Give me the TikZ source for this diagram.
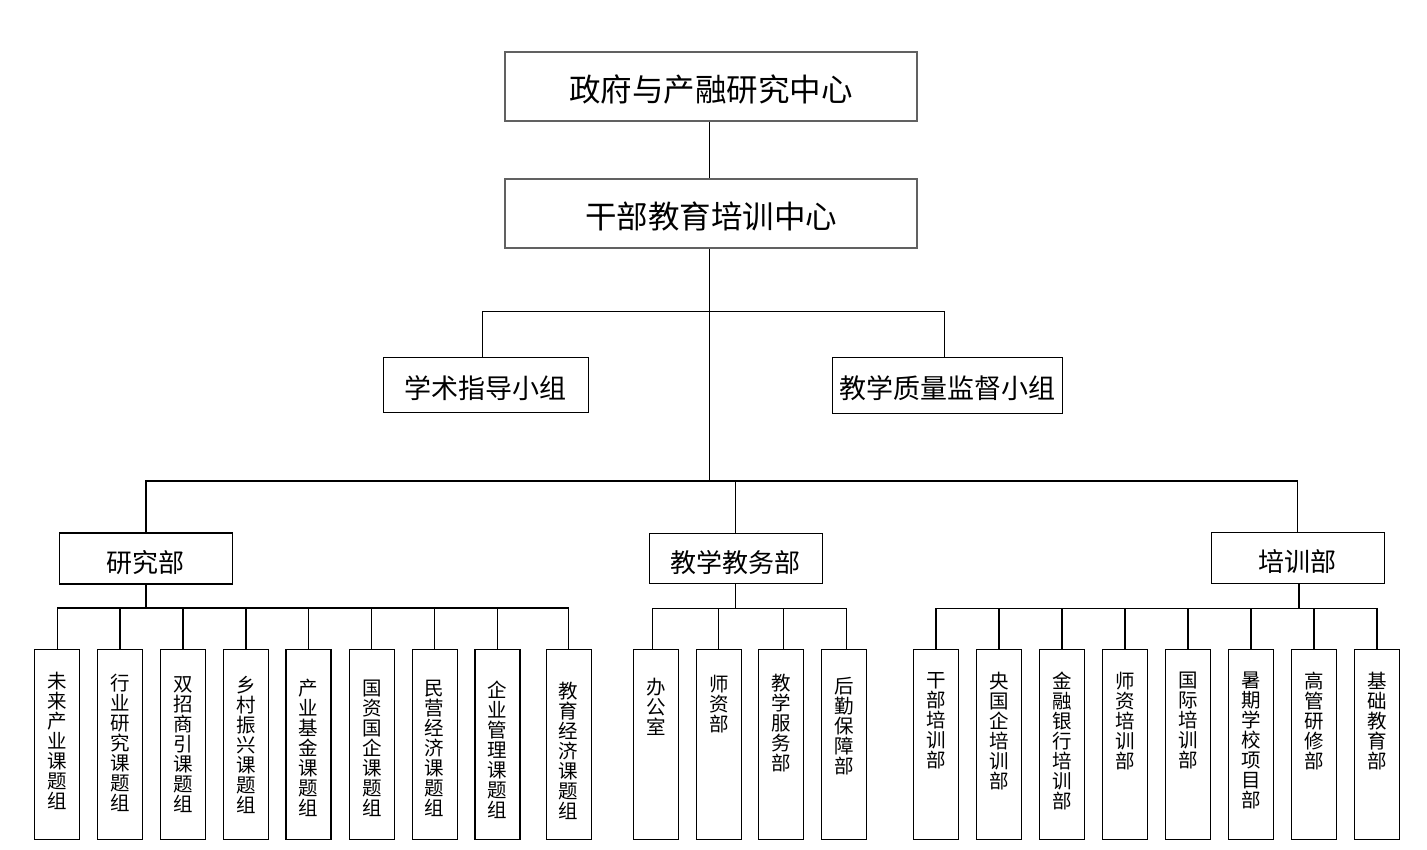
\documentclass[tikz,border=0pt]{standalone}
\usepackage{fontspec}
\newfontfamily\cjk{Noto Sans CJK SC}
\newcommand{\lowr}[2]{\raisebox{-#1}[\height][\depth]{#2}}
\begin{document}
\begin{tikzpicture}[x=1pt,y=-1pt,line width=1.2pt,
  box/.style={draw=black,line width=1.2pt,inner sep=0pt},
  graybox/.style={draw=black!62,line width=1.3pt,inner sep=0pt},
  ttl/.style={font=\cjk\fontsize{31.5}{32}\selectfont},
  sub/.style={font=\cjk\fontsize{27}{28}\selectfont},
  dept/.style={font=\cjk\fontsize{26}{27}\selectfont},
  leaf/.style={box,minimum width=45pt,minimum height=190pt},
  vtext/.style={align=center,inner sep=0pt,anchor=north,font=\cjk\fontsize{19.5}{20}\selectfont}]
\fill[white] (0,0) rectangle (1427,850);
\useasboundingbox (0,0) rectangle (1427,850);

% top levels
\node[graybox,ttl,minimum width=412pt,minimum height=69pt] (top) at (711,86.5) {\lowr{3pt}{政府与产融研究中心}};
\node[graybox,ttl,minimum width=412pt,minimum height=69pt] (mid) at (711,213.5) {\lowr{2.5pt}{干部教育培训中心}};
\node[box,sub,minimum width=205pt,minimum height=55pt] (acad) at (485.8,384.8) {\lowr{3pt}{学术指导小组}};
\node[box,sub,minimum width=230pt,minimum height=56pt] (qual) at (947.5,385.3) {\lowr{3pt}{教学质量监督小组}};

% departments
\node[box,dept,minimum width=173pt,minimum height=51pt] (yjb) at (145.9,558.5) {\lowr{4pt}{研究部}};
\node[box,dept,minimum width=173pt,minimum height=50pt] (jwb) at (735.8,558.3) {\lowr{4pt}{教学教务部}};
\node[box,dept,minimum width=173pt,minimum height=51pt] (pxb) at (1297.8,558) {\lowr{4pt}{培训部}};

% connectors of the upper part
\coordinate (c0) at (709.3,481);
\coordinate (c1) at (709.3,311.7);
\draw (top.south -| c0) -- (mid.north -| c0);
\draw (mid.south -| c0) -- (c0);
\draw ([xshift=-3pt]acad.north) |- ([xshift=-3pt]qual.north |- c1) -- ([xshift=-3pt]qual.north);
\draw (yjb.north) |- (pxb.north |- c0) -- (pxb.north);
\draw (jwb.north) -- (jwb.north |- c0);

% research children
\foreach \n/\x/\t/\s in {1/57.2/671.7/未\\来\\产\\业\\课\\题\\组,
                         2/119.9/673.3/行\\业\\研\\究\\课\\题\\组,
                         3/183/675.7/双\\招\\商\\引\\课\\题\\组,
                         4/246/676/乡\\村\\振\\兴\\课\\题\\组,
                         5/308.5/678.3/产\\业\\基\\金\\课\\题\\组,
                         6/371.8/679.3/国\\资\\国\\企\\课\\题\\组,
                         7/434.6/679.3/民\\营\\经\\济\\课\\题\\组,
                         8/497.5/680.7/企\\业\\管\\理\\课\\题\\组,
                         9/568.6/681.7/教\\育\\经\\济\\课\\题\\组}{
  \node[leaf] (l\n) at (\x,744.2) {};
  \node[vtext] (l\n t) at (\x,\t) {\s};
}
\coordinate (yb) at (147,608);
\draw (yjb.south) -- (yjb.south |- yb);
\draw (l1.north) |- (l9.north |- yb) -- (l9.north);
\foreach \n in {2,...,8}{\draw (l\n.north) -- (l\n.north |- yb);}

% teaching affairs children
\foreach \n/\x/\t/\s in {1/656/678/办\\公\\室,
                         2/718.8/675/师\\资\\部,
                         3/780.8/674/教\\学\\服\\务\\部,
                         4/844/677/后\\勤\\保\\障\\部}{
  \node[leaf] (m\n) at (\x,744.3) {};
  \node[vtext] (m\n t) at (\x,\t) {\s};
}
\coordinate (mb) at (735,608.3);
\draw (jwb.south) -- (jwb.south |- mb);
\draw ([xshift=-3.7pt]m1.north) |- ([xshift=2.7pt]m4.north |- mb) -- ([xshift=2.7pt]m4.north);
\draw (m2.north) -- (m2.north |- mb);
\draw ([xshift=2.5pt]m3.north) -- ([xshift=2.5pt]m3.north |- mb);

% training children
\foreach \n/\x/\s in {1/936/干\\部\\培\\训\\部,
                      2/999/央\\国\\企\\培\\训\\部,
                      3/1062/金\\融\\银\\行\\培\\训\\部,
                      4/1125/师\\资\\培\\训\\部,
                      5/1188/国\\际\\培\\训\\部,
                      6/1251/暑\\期\\学\\校\\项\\目\\部,
                      7/1314/高\\管\\研\\修\\部,
                      8/1377/基\\础\\教\\育\\部}{
  \node[leaf] (r\n) at (\x,744.3) {};
  \node[vtext] (r\n t) at (\x,671.7) {\s};
}
\coordinate (rb) at (1299,608.3);
\draw (pxb.south -| rb) -- (rb);
\draw (r1.north) |- (r8.north |- rb) -- (r8.north);
\foreach \n in {2,...,7}{\draw (r\n.north) -- (r\n.north |- rb);}
\end{tikzpicture}
\end{document}
